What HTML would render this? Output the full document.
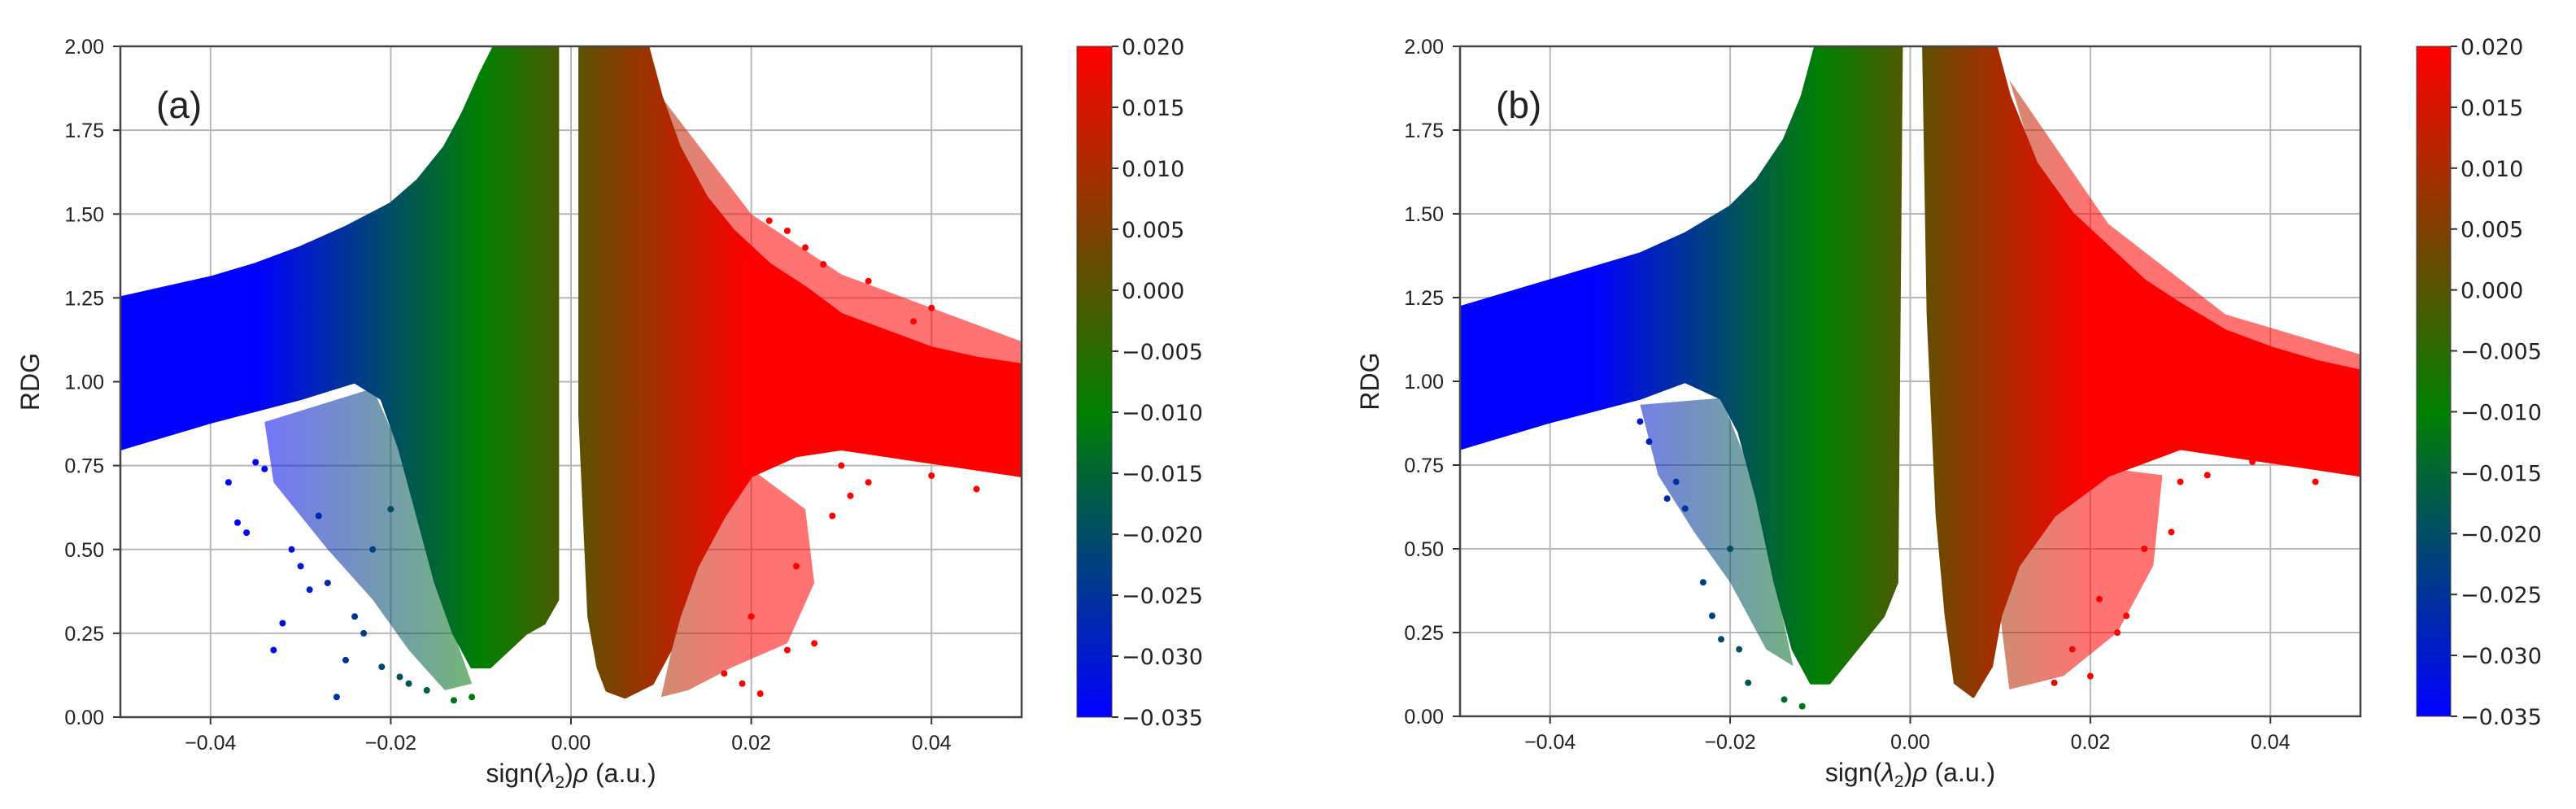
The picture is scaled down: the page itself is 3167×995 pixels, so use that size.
<!DOCTYPE html>
<html><head><meta charset="utf-8"><style>
html,body{margin:0;padding:0;background:#fff}
svg{display:block}
text{font-family:"Liberation Sans",sans-serif;fill:#222}
.cb{font-family:"DejaVu Sans","Liberation Sans",sans-serif}
</style></head><body>
<svg id="fig" width="3167" height="995" viewBox="0 0 3167 995" xmlns="http://www.w3.org/2000/svg"></svg>
<script>
// ---- data (data coordinates: x = sign(l2)rho, y = RDG) ----
const xTicks = [-0.04, -0.02, 0.00, 0.02, 0.04];
const xTickLabels = ["\u22120.04", "\u22120.02", "0.00", "0.02", "0.04"];
const yTicks = [0, 0.25, 0.5, 0.75, 1.0, 1.25, 1.5, 1.75, 2.0];
const yTickLabels = ["0.00","0.25","0.50","0.75","1.00","1.25","1.50","1.75","2.00"];
const cbTicks = [0.02,0.015,0.01,0.005,0,-0.005,-0.01,-0.015,-0.02,-0.025,-0.03,-0.035];
const cbTickLabels = ["0.020","0.015","0.010","0.005","0.000","\u22120.005","\u22120.010","\u22120.015","\u22120.020","\u22120.025","\u22120.030","\u22120.035"];
const panelLabels = ["(a)", "(b)"];

// panel (a) dense regions (polygon vertices as [x, y] pairs)
const denseLeftA = [[-0.05,1.25],[-0.045,1.28],[-0.04,1.31],[-0.035,1.35],[-0.03,1.40],[-0.025,1.46],[-0.02,1.53],[-0.017,1.60],[-0.014,1.70],[-0.012,1.80],[-0.01,1.92],[-0.0085,2.0],[-0.0015,2.0],[-0.0015,0.35],[-0.003,0.28],[-0.005,0.25],[-0.007,0.2],[-0.009,0.15],[-0.011,0.15],[-0.013,0.25],[-0.015,0.4],[-0.017,0.6],[-0.019,0.8],[-0.021,0.95],[-0.024,1.0],[-0.03,0.95],[-0.04,0.88],[-0.05,0.8]];
const denseRightA = [[0.001,2.0],[0.0085,2.0],[0.01,1.85],[0.012,1.7],[0.015,1.55],[0.018,1.45],[0.022,1.35],[0.026,1.28],[0.03,1.2],[0.035,1.15],[0.04,1.1],[0.045,1.07],[0.05,1.05],[0.05,0.72],[0.045,0.74],[0.04,0.76],[0.035,0.78],[0.03,0.8],[0.025,0.78],[0.02,0.72],[0.017,0.6],[0.014,0.45],[0.012,0.3],[0.011,0.2],[0.009,0.1],[0.006,0.06],[0.004,0.08],[0.003,0.15],[0.002,0.3],[0.001,0.9]];
const haloA = [
  [[-0.034,0.88],[-0.022,0.98],[-0.019,0.8],[-0.017,0.6],[-0.013,0.25],[-0.011,0.1],[-0.014,0.08],[-0.018,0.2],[-0.022,0.35],[-0.027,0.5],[-0.033,0.7]],
  [[0.012,0.72],[0.02,0.74],[0.026,0.62],[0.027,0.4],[0.024,0.22],[0.018,0.15],[0.013,0.08],[0.01,0.06],[0.012,0.3]],
  [[0.01,1.85],[0.02,1.5],[0.03,1.32],[0.045,1.17],[0.05,1.12],[0.05,1.0],[0.03,1.15],[0.02,1.35],[0.012,1.65]]
];
const sparseA = [[-0.038,0.7],[-0.036,0.55],[-0.033,0.2],[-0.032,0.28],[-0.026,0.06],[-0.03,0.45],[-0.028,0.6],[-0.024,0.3],[-0.022,0.5],[-0.02,0.62],[-0.018,0.1],[-0.013,0.05],[-0.011,0.06],[-0.035,0.76],[-0.031,0.5],[-0.025,0.17],[-0.029,0.38],[-0.027,0.4],[-0.023,0.25],[-0.021,0.15],[-0.019,0.12],[-0.016,0.08],[-0.037,0.58],[-0.034,0.74],[0.021,0.07],[0.02,0.3],[0.025,0.45],[0.03,0.75],[0.033,0.7],[0.035,0.9],[0.04,1.22],[0.028,1.35],[0.024,1.45],[0.022,1.48],[0.027,0.22],[0.017,0.13],[0.04,0.72],[0.038,1.18],[0.029,0.6],[0.031,0.66],[0.026,1.4],[0.033,1.3],[0.045,0.68],[0.024,0.2],[0.019,0.1]];

// panel (b)
const denseLeftB = [[-0.05,1.22],[-0.04,1.3],[-0.03,1.38],[-0.025,1.44],[-0.02,1.52],[-0.017,1.6],[-0.014,1.72],[-0.012,1.85],[-0.0105,2.0],[-0.001,2.0],[-0.0015,0.4],[-0.003,0.3],[-0.006,0.2],[-0.009,0.1],[-0.011,0.1],[-0.013,0.2],[-0.015,0.4],[-0.017,0.65],[-0.019,0.85],[-0.021,0.95],[-0.025,1.0],[-0.03,0.95],[-0.04,0.88],[-0.05,0.8]];
const denseRightB = [[0.0015,2.0],[0.0095,2.0],[0.011,1.85],[0.014,1.65],[0.018,1.5],[0.022,1.4],[0.026,1.3],[0.03,1.23],[0.035,1.15],[0.04,1.1],[0.045,1.06],[0.05,1.03],[0.05,0.72],[0.04,0.76],[0.03,0.8],[0.022,0.72],[0.016,0.6],[0.012,0.45],[0.01,0.3],[0.009,0.15],[0.007,0.06],[0.005,0.1],[0.004,0.3],[0.003,0.6],[0.002,1.2]];
const haloB = [
  [[-0.03,0.93],[-0.021,0.95],[-0.018,0.75],[-0.015,0.4],[-0.013,0.15],[-0.016,0.2],[-0.02,0.4],[-0.024,0.55],[-0.028,0.72]],
  [[0.012,0.62],[0.022,0.74],[0.028,0.72],[0.027,0.45],[0.023,0.25],[0.017,0.12],[0.011,0.08],[0.01,0.3]],
  [[0.011,1.9],[0.022,1.47],[0.035,1.2],[0.05,1.08],[0.05,1.0],[0.03,1.18],[0.015,1.55]]
];
const sparseB = [[-0.027,0.65],[-0.025,0.62],[-0.023,0.4],[-0.022,0.3],[-0.021,0.23],[-0.02,0.5],[-0.018,0.1],[-0.014,0.05],[-0.012,0.03],[-0.03,0.88],[-0.029,0.82],[-0.026,0.7],[-0.019,0.2],[0.02,0.12],[0.023,0.25],[0.026,0.5],[0.03,0.7],[0.033,0.72],[0.038,0.76],[0.024,0.3],[0.018,0.2],[0.034,0.9],[0.045,0.7],[0.029,0.55],[0.021,0.35],[0.016,0.1]];

// ---- layout ----
const panels = [
  {left:148, right:1256, top:57, bottom:882, cbL:1324, cbR:1367, dense:[denseLeftA,denseRightA], halo:haloA, sparse:sparseA, id:"a"},
  {left:1795, right:2902, top:57, bottom:881, cbL:2971, cbR:3013, dense:[denseLeftB,denseRightB], halo:haloB, sparse:sparseB, id:"b"}
];
const NS = "http://www.w3.org/2000/svg";
const svg = document.getElementById("fig");
function mk(tag, attrs, parent){const e=document.createElementNS(NS,tag);for(const k in attrs)e.setAttribute(k,attrs[k]);(parent||svg).appendChild(e);return e;}
function cmap(v){ // blue(-0.035) -> green(-0.01) -> red(0.02)
  v=Math.max(-0.035,Math.min(0.02,v));
  if(v<=-0.01){const t=(v+0.035)/0.025;return `rgb(0,${Math.round(128*t)},${Math.round(255*(1-t))})`;}
  const t=(v+0.01)/0.03;return `rgb(${Math.round(255*t)},${Math.round(128*(1-t))},0)`;
}
const defs = mk("defs",{});
panels.forEach((p,pi)=>{
  const X = v => p.left + (v+0.05)/0.1*(p.right-p.left);
  const Y = v => p.bottom - v/2*(p.bottom-p.top);
  const g = mk("linearGradient",{id:"grad"+p.id,gradientUnits:"userSpaceOnUse",x1:X(-0.035),y1:0,x2:X(0.02),y2:0},defs);
  const gv = mk("linearGradient",{id:"cbgrad"+p.id,x1:0,y1:1,x2:0,y2:0},defs);
  for(let i=0;i<=11;i++){const v=-0.035+i*0.005;
    mk("stop",{offset:i/11,"stop-color":cmap(v)},g);
    mk("stop",{offset:i/11,"stop-color":cmap(v)},gv);}
  const clip = mk("clipPath",{id:"clip"+p.id},defs);
  mk("rect",{x:p.left,y:p.top,width:p.right-p.left,height:p.bottom-p.top},clip);

  const ax = mk("g",{});
  
  
  xTicks.forEach((t,i)=>{
    const gl=mk("line",{x1:X(t),x2:X(t),y1:p.top,y2:p.bottom,stroke:"#b8b8b8","stroke-width":2},ax);
    
    
    mk("line",{x1:X(t),x2:X(t),y1:p.bottom,y2:p.bottom+9,stroke:"#333","stroke-width":2},ax);
    const tl=mk("text",{x:X(t),y:p.bottom+40,"text-anchor":"middle","font-size":25},ax);
    tl.textContent=xTickLabels[i];
    
    
  });
  yTicks.forEach((t,i)=>{
    const gl=mk("line",{x1:p.left,x2:p.right,y1:Y(t),y2:Y(t),stroke:"#b8b8b8","stroke-width":2},ax);
    
    
    mk("line",{x1:p.left-9,x2:p.left,y1:Y(t),y2:Y(t),stroke:"#333","stroke-width":2},ax);
    const tl=mk("text",{x:p.left-20,y:Y(t)+9,"text-anchor":"end","font-size":25},ax);
    tl.textContent=yTickLabels[i];
    
    
  });
  const sc = mk("g",{"clip-path":`url(#clip${p.id})`},ax);
  
  
  p.halo.forEach(poly=>{
    const e=mk("polygon",{points:poly.map(q=>X(q[0])+","+Y(q[1])).join(" "),fill:`url(#grad${p.id})`,"fill-opacity":0.55},sc);
    
    
  });
  p.dense.forEach(poly=>{
    const e=mk("polygon",{points:poly.map(q=>X(q[0])+","+Y(q[1])).join(" "),fill:`url(#grad${p.id})`,stroke:`url(#grad${p.id})`,"stroke-width":4,"stroke-linejoin":"round"},sc);
    
    
  });
  p.sparse.forEach(q=>{
    const e=mk("circle",{cx:X(q[0]),cy:Y(q[1]),r:4,fill:cmap(q[0])},sc);
    
    
  });
  const fr=mk("rect",{x:p.left,y:p.top,width:p.right-p.left,height:p.bottom-p.top,fill:"none",stroke:"#444","stroke-width":2.5},ax);
  
  
  const xl=mk("text",{x:(p.left+p.right)/2,y:p.bottom+80,"text-anchor":"middle","font-size":32},ax);
  xl.innerHTML='sign(<tspan font-style="italic">\u03bb</tspan><tspan font-size="21" dy="7">2</tspan><tspan dy="-7">)</tspan><tspan font-style="italic">\u03c1</tspan> (a.u.)';
  
  
  const cx=p.left-100, cy=(p.top+p.bottom)/2;
  const yl=mk("text",{x:cx,y:cy,"text-anchor":"middle","font-size":32,transform:`rotate(-90 ${cx} ${cy})`},ax);
  yl.textContent="RDG";
  
  
  const pl=mk("text",{x:p.left+44,y:p.top+88,"font-size":46},ax);
  pl.textContent=panelLabels[pi];
  
  
  const cb=mk("g",{},ax);
  
  
  mk("rect",{x:p.cbL,y:p.top,width:p.cbR-p.cbL,height:p.bottom-p.top,fill:`url(#cbgrad${p.id})`,stroke:"#444","stroke-width":1},cb);
  const CY = v => p.bottom - (v+0.035)/0.055*(p.bottom-p.top);
  cbTicks.forEach((t,i)=>{
    mk("line",{x1:p.cbR,x2:p.cbR+8,y1:CY(t),y2:CY(t),stroke:"#333","stroke-width":2},cb);
    const tl=mk("text",{x:p.cbR+12,y:CY(t)+10,"font-size":27,class:"cb"},cb);
    tl.textContent=cbTickLabels[i];
    
    
  });
});
</script>
</body></html>
